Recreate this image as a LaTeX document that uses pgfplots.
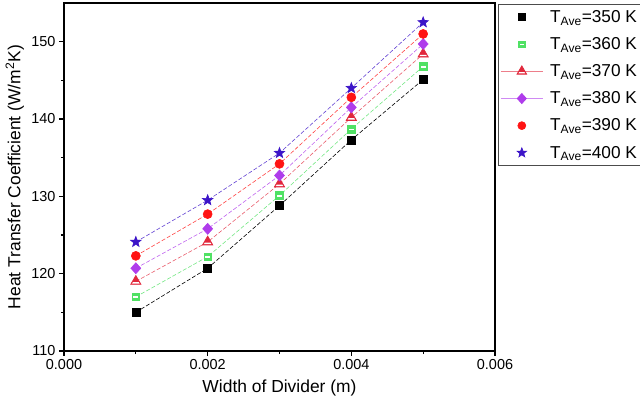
\documentclass[border=0pt]{standalone}
\usepackage{fontspec}
\setmainfont{Liberation Sans}
\usepackage{pgfplots}
\pgfplotsset{compat=1.18}
\definecolor{c350}{RGB}{0,0,0}
\definecolor{c360}{RGB}{80,225,100}
\definecolor{c370}{RGB}{225,40,60}
\definecolor{c380}{RGB}{175,60,235}
\definecolor{c390}{RGB}{255,20,20}
\definecolor{c400}{RGB}{60,20,200}
\pgfdeclareplotmark{halftri}{%
  \pgfpathmoveto{\pgfqpoint{0pt}{\pgfplotmarksize}}%
  \pgfpathlineto{\pgfqpoint{-0.866\pgfplotmarksize}{-0.5\pgfplotmarksize}}%
  \pgfpathlineto{\pgfqpoint{0.866\pgfplotmarksize}{-0.5\pgfplotmarksize}}%
  \pgfpathclose\pgfusepathqfillstroke
  \begin{pgfscope}%
  \pgfsetfillcolor{white}%
  \pgfpathmoveto{\pgfqpoint{-0.62\pgfplotmarksize}{-0.36\pgfplotmarksize}}%
  \pgfpathlineto{\pgfqpoint{0.62\pgfplotmarksize}{-0.36\pgfplotmarksize}}%
  \pgfpathlineto{\pgfqpoint{0.48\pgfplotmarksize}{-0.12\pgfplotmarksize}}%
  \pgfpathlineto{\pgfqpoint{-0.48\pgfplotmarksize}{-0.12\pgfplotmarksize}}%
  \pgfpathclose\pgfusepathqfill
  \end{pgfscope}%
}
\pgfdeclareplotmark{halfsq}{%
  \pgfpathrectangle{\pgfqpoint{-\pgfplotmarksize}{-\pgfplotmarksize}}{\pgfqpoint{2\pgfplotmarksize}{2\pgfplotmarksize}}%
  \pgfusepathqfillstroke
  \begin{pgfscope}%
  \pgfsetfillcolor{white}%
  \pgfpathrectangle{\pgfqpoint{-0.65\pgfplotmarksize}{-0.3\pgfplotmarksize}}{\pgfqpoint{1.3\pgfplotmarksize}{0.4\pgfplotmarksize}}%
  \pgfusepathqfill
  \end{pgfscope}%
}
\pgfdeclareplotmark{fdiam}{%
  \pgfpathmoveto{\pgfqpoint{0pt}{\pgfplotmarksize}}%
  \pgfpathlineto{\pgfqpoint{0.9\pgfplotmarksize}{0pt}}%
  \pgfpathlineto{\pgfqpoint{0pt}{-\pgfplotmarksize}}%
  \pgfpathlineto{\pgfqpoint{-0.9\pgfplotmarksize}{0pt}}%
  \pgfpathclose\pgfusepathqfillstroke
}
\pgfdeclareplotmark{fstar}{%
  \pgfpathmoveto{\pgfqpointpolar{90}{\pgfplotmarksize}}%
  \pgfpathlineto{\pgfqpointpolar{126}{0.42\pgfplotmarksize}}%
  \pgfpathlineto{\pgfqpointpolar{162}{\pgfplotmarksize}}%
  \pgfpathlineto{\pgfqpointpolar{198}{0.42\pgfplotmarksize}}%
  \pgfpathlineto{\pgfqpointpolar{234}{\pgfplotmarksize}}%
  \pgfpathlineto{\pgfqpointpolar{270}{0.42\pgfplotmarksize}}%
  \pgfpathlineto{\pgfqpointpolar{306}{\pgfplotmarksize}}%
  \pgfpathlineto{\pgfqpointpolar{342}{0.42\pgfplotmarksize}}%
  \pgfpathlineto{\pgfqpointpolar{18}{\pgfplotmarksize}}%
  \pgfpathlineto{\pgfqpointpolar{54}{0.42\pgfplotmarksize}}%
  \pgfpathclose\pgfusepathqfillstroke
}
\begin{document}
\begin{tikzpicture}
\useasboundingbox (-64bp,-57bp) rectangle (576bp,351bp);
\begin{axis}[
  scale only axis, width=431bp, height=348bp,
  xmin=0, xmax=0.006, ymin=110, ymax=155,
  scaled x ticks=false,
  xtick={0,0.002,0.004,0.006}, xticklabels={0.000,0.002,0.004,0.006},
  minor xtick={0.001,0.003,0.005},
  ytick={110,120,130,140,150}, minor ytick={115,125,135,145},
  tick align=outside, tick pos=left,
  major tick length=5bp, minor tick length=3bp,
  every tick/.style={black, line width=1.1bp},
  axis line style={line width=1.3bp},
  /pgf/number format/assume math mode=true,
  tick label style={font=\fontsize{14.5}{17}\selectfont},
  label style={font=\fontsize{17.5}{21}\selectfont},
  xlabel={Width of Divider (m)},
  ylabel={Heat Transfer Coefficient (W/m\textsuperscript{2}K)},
  xlabel style={at={(axis description cs:0.5,-0.106)}, anchor=center},
  ylabel style={at={(axis description cs:-0.114,0.5)}, anchor=center},
  legend cell align=left,
  legend image code/.code={\draw[mark repeat=2,mark phase=2] plot coordinates {(0bp,0bp)(21bp,0bp)(42bp,0bp)};},
  legend style={at={(1.007,0.997)}, anchor=north west, draw=black!70, line width=0.8bp,
    font=\fontsize{17.3}{20}\selectfont, row sep=9.6bp, inner xsep=2bp, inner ysep=4bp,
    /tikz/every odd column/.append style={column sep=5bp}},
  every axis plot/.append style={line width=0.6bp, dash pattern=on 4bp off 2bp},
]
\addplot[forget plot, c350, mark=square*, mark size=4bp, mark options={solid, fill=c350}]
  coordinates {(0.001,115.0) (0.002,120.7) (0.003,128.8) (0.004,137.3) (0.005,145.1)};
\addplot[forget plot, c360!80, mark=halfsq, mark size=3.8bp, mark options={solid, draw=c360, fill=c360}]
  coordinates {(0.001,117.0) (0.002,122.2) (0.003,130.1) (0.004,138.7) (0.005,146.8)};
\addplot[forget plot, c370!75, mark=halftri, mark size=6bp, mark options={solid, draw=c370, fill=c370}]
  coordinates {(0.001,119.0) (0.002,124.1) (0.003,131.6) (0.004,140.2) (0.005,148.4)};
\addplot[forget plot, c380!80, mark=fdiam, mark size=5.5bp, mark options={solid, draw=c380, fill=c380}]
  coordinates {(0.001,120.7) (0.002,125.8) (0.003,132.7) (0.004,141.5) (0.005,149.7)};
\addplot[forget plot, c390!80, mark=*, mark size=4.5bp, mark options={solid, draw=c390, fill=c390}]
  coordinates {(0.001,122.3) (0.002,127.7) (0.003,134.2) (0.004,142.8) (0.005,151.0)};
\addplot[forget plot, c400!80, mark=fstar, mark size=5.5bp, mark options={solid, draw=c400, fill=c400}]
  coordinates {(0.001,124.1) (0.002,129.5) (0.003,135.6) (0.004,144.0) (0.005,152.5)};
\addlegendimage{only marks, solid, c350, mark=square*, mark size=3.5bp}
\addlegendentry{T\textsubscript{Ave}=350 K}
\addlegendimage{only marks, solid, c360, mark=halfsq, mark size=3.3bp, mark options={fill=c360}}
\addlegendentry{T\textsubscript{Ave}=360 K}
\addlegendimage{solid, c370!60, line width=0.8bp, mark=halftri, mark size=5.5bp, mark options={draw=c370, fill=c370}}
\addlegendentry{T\textsubscript{Ave}=370 K}
\addlegendimage{solid, c380!60, line width=0.8bp, mark=fdiam, mark size=5bp, mark options={draw=c380, fill=c380}}
\addlegendentry{T\textsubscript{Ave}=380 K}
\addlegendimage{only marks, solid, c390, mark=*, mark size=4bp}
\addlegendentry{T\textsubscript{Ave}=390 K}
\addlegendimage{only marks, solid, c400, mark=fstar, mark size=5bp, mark options={fill=c400}}
\addlegendentry{T\textsubscript{Ave}=400 K}
\end{axis}
\end{tikzpicture}
\end{document}
